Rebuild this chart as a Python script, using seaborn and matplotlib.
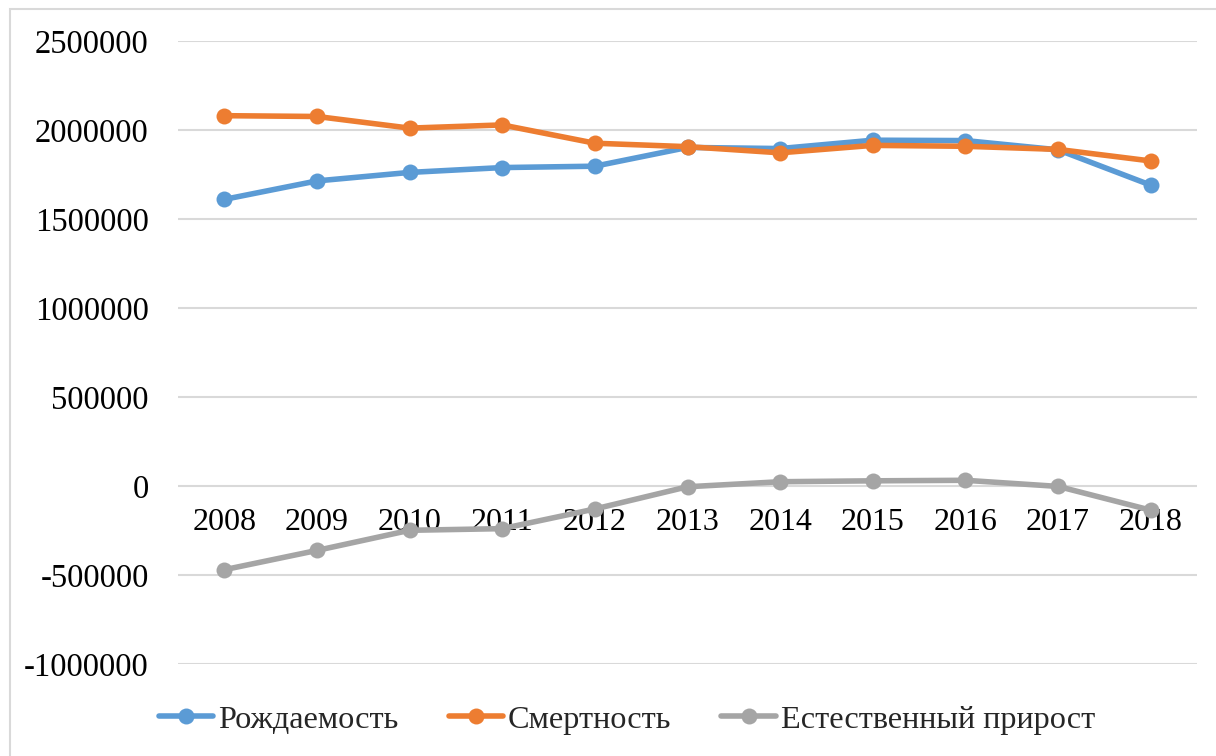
"""
Births, deaths and natural growth by year, drawn as an Excel-style line chart.
"""
import matplotlib.pyplot as plt
import matplotlib.patches as mpatches
import pandas as pd
import seaborn as sns

years = ["2008", "2009", "2010", "2011", "2012", "2013",
         "2014", "2015", "2016", "2017", "2018"]
births = [1610122, 1713947, 1761687, 1788948, 1796629, 1902084,
          1895822, 1942683, 1940579, 1888729, 1690307]
deaths = [2080445, 2075954, 2010543, 2028516, 1925720, 1906335,
          1871809, 1913613, 1908541, 1891015, 1826125]
growth = [-470323, -362007, -248856, -239568, -129091, -4251,
          24013, 29070, 32038, -2286, -135818]
series_names = ["Рождаемость", "Смертность", "Естественный прирост"]
colors = ["#5B9BD5", "#ED7D31", "#A5A5A5"]
yticks = [-1000000, -500000, 0, 500000, 1000000, 1500000, 2000000, 2500000]


def main():
    sns.set_theme(style="white")
    plt.rcParams["font.family"] = ["Liberation Serif", "DejaVu Serif"]

    df = pd.DataFrame({"year": years * 3,
                       "value": births + deaths + growth,
                       "series": sum([[n] * len(years) for n in series_names], [])})
    df["pos"] = list(range(len(years))) * 3

    fig = plt.figure(figsize=(12.16, 7.56), dpi=100)
    ax = fig.add_axes([178 / 1216, 1 - 664 / 756,
                       (1197 - 178) / 1216, (664 - 41) / 756])

    sns.lineplot(data=df, x="pos", y="value", hue="series",
                 hue_order=series_names, palette=colors, marker="o",
                 markersize=11.5, markeredgewidth=0, linewidth=4.0,
                 ax=ax, legend=True)

    ax.spines["bottom"].set_position(("data", 0))
    for side in ["top", "right", "left", "bottom"]:
        ax.spines[side].set_visible(False)
    ax.set_xlim(-0.5, len(years) - 0.5)
    ax.set_ylim(-1000000, 2500000)
    ax.set_yticks(yticks)
    ax.set_yticklabels([str(v) for v in yticks])
    ax.set_xticks(range(len(years)))
    ax.set_xticklabels(years)
    ax.set_xlabel("")
    ax.set_ylabel("")
    ax.grid(axis="y", color="#D9D9D9", linewidth=1.5)
    ax.set_axisbelow(True)
    ax.tick_params(axis="x", length=0, pad=16, colors="black", labelsize=23)
    ax.tick_params(axis="y", length=0, pad=21, colors="black", labelsize=23.5)

    handles, labels = ax.get_legend_handles_labels()
    ax.legend(handles, labels, loc="center",
              bbox_to_anchor=(627 / 1216, 1 - 720 / 756),
              bbox_transform=fig.transFigure, ncol=3, frameon=False,
              fontsize=23.2, handlelength=1.7, handletextpad=0.15,
              columnspacing=1.55)

    fig.patches.append(mpatches.Rectangle((10 / 1216, -0.1), 1.2, 1.1 - 9 / 756,
                                          transform=fig.transFigure,
                                          fill=False, edgecolor="#D9D9D9",
                                          linewidth=1.5))
    fig.savefig("out.png", dpi=100)


if __name__ == "__main__":
    main()
